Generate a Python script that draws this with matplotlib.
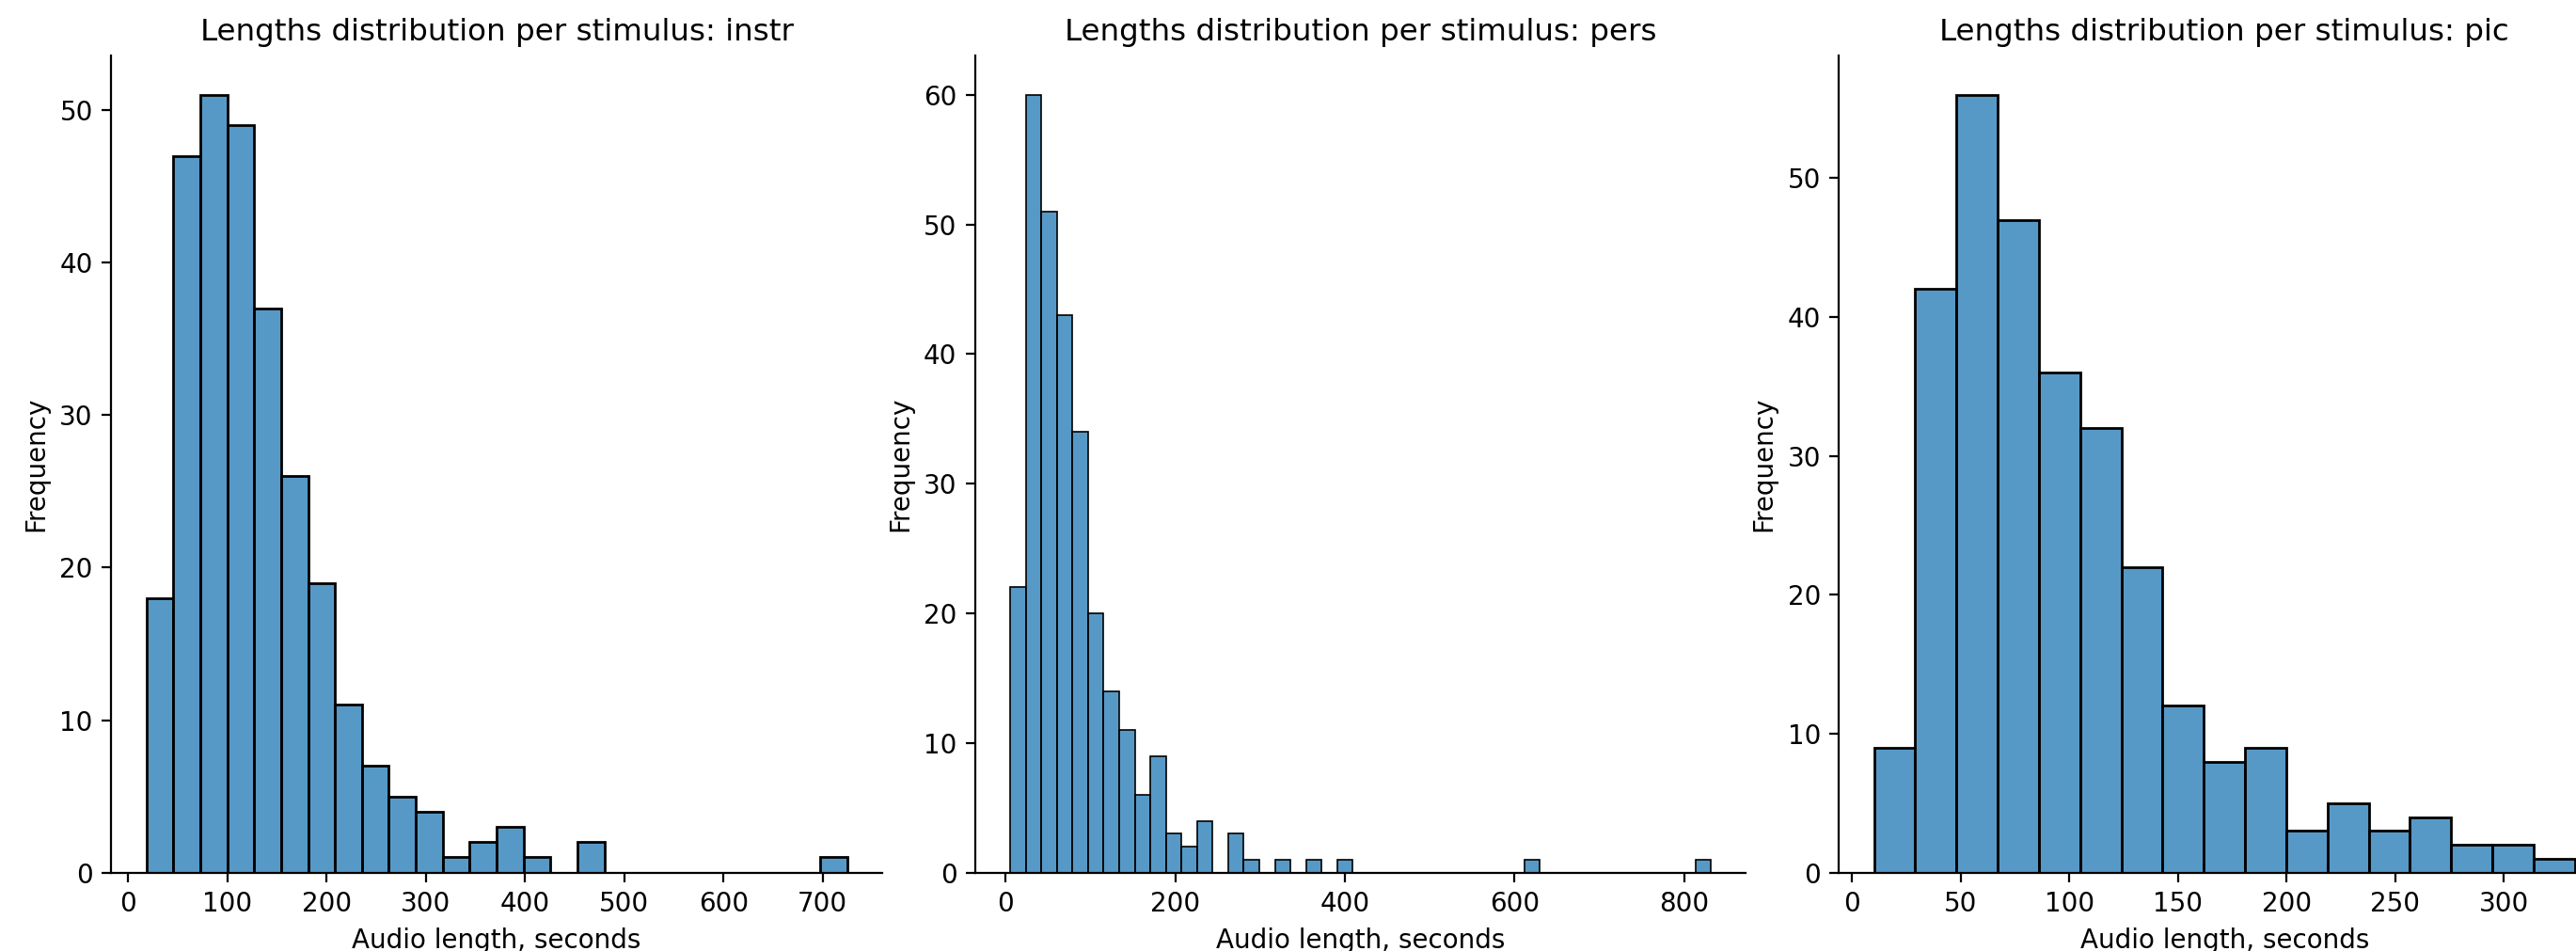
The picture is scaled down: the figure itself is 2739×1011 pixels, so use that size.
import numpy as np
import pandas as pd
import matplotlib
matplotlib.use('Agg')
import matplotlib.pyplot as plt
import seaborn as sns

# ── Histogram counts ────────────────────────────────────────────────────────
STIMULI = ["instr", "pers", "pic"]

instr_counts = [18, 47, 51, 49, 37, 26, 19, 11, 7, 5, 4, 1, 2, 3, 1, 0, 2,
                0, 0, 0, 0, 0, 0, 0, 0, 1]
instr_range = (18.2, 724.6)

pers_counts = [22, 60, 51, 43, 34, 20, 14, 11, 6, 9, 3, 2, 4, 0, 3, 1, 0, 1,
               0, 1, 0, 1, 0, 0, 0, 0, 0, 0, 0, 0, 0, 0, 0, 1, 0, 0, 0, 0,
               0, 0, 0, 0, 0, 0, 1]
pers_range = (5.5, 831.5)

pic_counts = [9, 42, 56, 47, 36, 32, 22, 12, 8, 9, 3, 5, 3, 4, 2, 2, 1]
pic_range = (10.1, 332.6)

COUNTS = {"instr": instr_counts, "pers": pers_counts, "pic": pic_counts}
RANGES = {"instr": instr_range, "pers": pers_range, "pic": pic_range}

# ── Figure (original was wider; right panel is cut by the screenshot) ──────
W, H, DPI = 2739, 1011, 200
fig, axes = plt.subplots(1, 3, figsize=(W / DPI, H / DPI), dpi=DPI)
fig.subplots_adjust(left=118.3 / W, right=2775 / W,
                    bottom=1 - 927.7 / H, top=1 - 59.4 / H, wspace=0.1207)

for ax, stim in zip(axes, STIMULI):
    counts = COUNTS[stim]
    lo, hi = RANGES[stim]
    width = (hi - lo) / len(counts)
    df = pd.DataFrame({"length": lo + width * (np.arange(len(counts)) + 0.5),
                       "n": counts})
    sns.histplot(data=df, x="length", weights="n", bins=len(counts),
                 binrange=(lo, hi), ax=ax)
    ax.set_title(f"Lengths distribution per stimulus: {stim}", fontsize=11.7)
    ax.set_xlabel("Audio length, seconds")
    ax.set_ylabel("Frequency")
    sns.despine(ax=ax)

fig.savefig("out.png", dpi=DPI)
